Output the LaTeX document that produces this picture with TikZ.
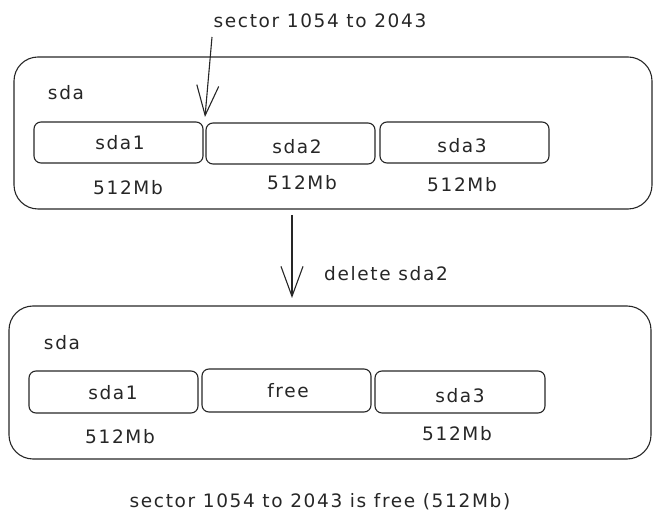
\documentclass[tikz,border=0pt]{standalone}
\usepackage{fontspec}
\newfontfamily\handfont[LetterSpace=9]{DejaVu Sans}
\usetikzlibrary{arrows.meta}
\begin{document}
\begin{tikzpicture}[x=1pt,y=-1pt,
  txt/.style={font=\handfont\fontsize{18.5}{21}\selectfont, inner sep=0pt, text=black!85},
  outerbox/.style={draw=black!85, line width=1.1pt, rounded corners=24pt},
  partbox/.style={draw=black!85, line width=1.1pt, rounded corners=7pt},
  arr/.style={draw=black!85, line width=1.1pt, -{Straight Barb[length=30pt,width=22pt,line width=1.1pt]}}]
\useasboundingbox (0,0) rectangle (659,526);
% top state
\draw[outerbox] (14,57) rectangle (652,209);
\node[txt] (sdaA) at (66,93) {sda};
\draw[partbox] (34,122) rectangle (203,163);
\draw[partbox] (206,123) rectangle (375,164);
\draw[partbox] (380,122) rectangle (549,163);
\node[txt] (p1) at (120,143) {sda1};
\node[txt] (p2) at (297,147) {sda2};
\node[txt] (p3) at (462,146) {sda3};
\node[txt] (s1) at (128,188) {512Mb};
\node[txt] (s2) at (302,183) {512Mb};
\node[txt] (s3) at (462,185) {512Mb};
\node[txt] (sect) at (320,21) {sector 1054 to 2043};
\coordinate (gap) at (205,117);
\draw[arr] (212,37) -- (gap);
% transition
\coordinate (dtop) at (292,215);
\coordinate (dbot) at (292,298);
\draw[arr] (dtop) -- (dbot);
\node[txt] (del) at (386,274) {delete sda2};
% bottom state
\draw[outerbox] (9,306) rectangle (651,459);
\node[txt] (sdaB) at (62,343) {sda};
\draw[partbox] (29,371) rectangle (198,413);
\draw[partbox] (202,369) rectangle (371,412);
\draw[partbox] (375,371) rectangle (545,413);
\node[txt] (q1) at (113,393) {sda1};
\node[txt] (q2) at (288,391) {free};
\node[txt] (q3) at (460,396) {sda3};
\node[txt] (t1) at (120,437) {512Mb};
\node[txt] (t3) at (457,434) {512Mb};
\node[txt] (fin) at (320,502) {sector 1054 to 2043 is free (512Mb)};
\end{tikzpicture}
\end{document}
